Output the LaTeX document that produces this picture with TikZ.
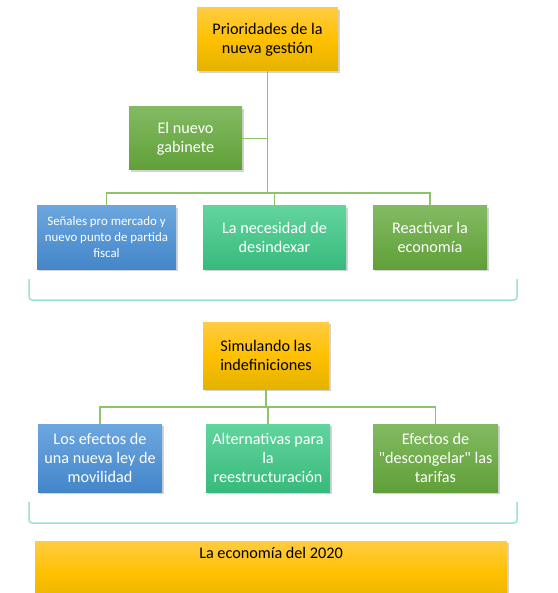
\documentclass[tikz,border=0pt]{standalone}
\usepackage{fontspec}
\setmainfont{Carlito}[Ligatures=TeXOff]
\usetikzlibrary{shadows,calc}
\definecolor{orgtop}{RGB}{255,204,66}
\definecolor{orgmid}{RGB}{255,192,0}
\definecolor{orgbot}{RGB}{228,178,0}
\definecolor{grntop}{RGB}{130,186,98}
\definecolor{grnbot}{RGB}{96,160,56}
\definecolor{blutop}{RGB}{108,166,222}
\definecolor{blubot}{RGB}{68,134,202}
\definecolor{teatop}{RGB}{98,212,158}
\definecolor{teabot}{RGB}{56,186,124}
\definecolor{linkc}{RGB}{140,196,108}
\definecolor{bracec}{RGB}{150,228,212}

\begin{document}
\begin{tikzpicture}[x=1pt,y=-1pt,font=\fontsize{16.2}{19}\selectfont,
 card/.style={inner sep=1pt,align=center,
  drop shadow={opacity=0.35,shadow xshift=1.5pt,shadow yshift=-2pt}},
 orangebox/.style={card,top color=orgtop,bottom color=orgbot,middle color=orgmid,text=black},
 greenbox/.style={card,top color=grntop,bottom color=grnbot,text=white},
 bluebox/.style={card,top color=blutop,bottom color=blubot,text=white},
 tealbox/.style={card,top color=teatop,bottom color=teabot,text=white},
 link/.style={draw=linkc,line width=1.4pt},
 brace/.style={draw=bracec,line width=1.5pt,rounded corners=3pt}]
 \useasboundingbox (0,0) rectangle (557,593);
 \clip (0,0) rectangle (557,593);

 % first block
 \node[orangebox,minimum width=141,minimum height=63] (prio) at (267.5,39.5) {Prioridades de la\\nueva gestión};
 \node[greenbox,minimum width=113,minimum height=63] (gab) at (185.5,138.5) {El nuevo\\gabinete};
 \node[bluebox,minimum width=139,minimum height=63,font=\fontsize{12.9}{16}\selectfont] (sen) at (106.5,237.5) {Señales pro mercado y\\nuevo punto de partida\\fiscal};
 \node[tealbox,minimum width=143,minimum height=63] (nec) at (274.5,237.5) {La necesidad de\\desindexar};
 \node[greenbox,minimum width=114,minimum height=63] (rea) at (430,237.5) {Reactivar la\\economía};
 \coordinate (bus1) at (0,193);
 \draw[link] (prio.south) -- (prio.south |- bus1);
 \draw[link] (gab.east) -- (gab.east -| prio.south);
 \foreach \n in {sen,nec,rea}
  \draw[link] (prio.south |- bus1) -| (\n.north);
 \draw[brace] (29,279) -- (29,300) -- (517,300) -- (517,279);

 % second block
 \node[orangebox,minimum width=126,minimum height=67] (simu) at (266,355.5) {Simulando las\\indefiniciones};
 \node[bluebox,minimum width=124,minimum height=68] (efe) at (100,458) {Los efectos de\\una nueva ley de\\movilidad};
 \node[tealbox,minimum width=124,minimum height=68] (alt) at (268,458) {Alternativas para\\la\\reestructuración};
 \node[greenbox,minimum width=125,minimum height=68] (tar) at (435.5,458) {Efectos de\\"descongelar" las\\tarifas};
 \coordinate (bus2) at (0,407);
 \draw[link] (simu.south) -- (simu.south |- bus2);
 \foreach \n in {efe,alt,tar}
  \draw[link] (simu.south |- bus2) -| (\n.north);
 \draw[brace] (29,502) -- (29,523) -- (517,523) -- (517,502);

 % last block
 \node[orangebox,minimum width=472,inner ysep=5pt,text height=12pt,text depth=42pt,anchor=north] (eco) at (271,541) {La economía del 2020};
\end{tikzpicture}
\end{document}
